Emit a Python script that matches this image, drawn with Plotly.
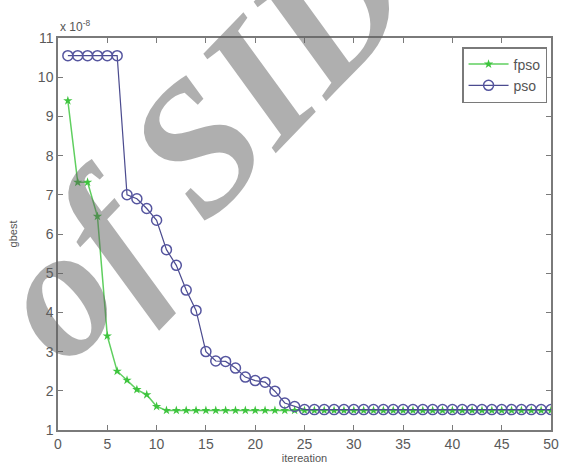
import plotly.graph_objects as go

iterations = list(range(1, 51))

fpso = [9.4, 7.32, 7.32, 6.45, 3.4, 2.5, 2.27, 2.03, 1.9, 1.6] + [1.5] * 40

pso = [10.55, 10.55, 10.55, 10.55, 10.55, 10.55, 7.0, 6.9, 6.65, 6.35,
       5.6, 5.2, 4.57, 4.05, 3.0, 2.76, 2.75, 2.58, 2.35, 2.26,
       2.22, 1.99, 1.69, 1.6] + [1.52] * 26

x_ticks = list(range(0, 51, 5))
y_ticks = list(range(1, 12))

fig = go.Figure()
fig.add_trace(go.Scatter(
    x=iterations, y=fpso, name="fpso", mode="lines+markers",
    line=dict(color="#5fcf5f", width=1.5),
    marker=dict(symbol="star", size=7, color="#3ec43e"),
))
fig.add_trace(go.Scatter(
    x=iterations, y=pso, name="pso", mode="lines+markers",
    line=dict(color="#4b4b8f", width=1.2),
    marker=dict(symbol="circle-open", size=10, color="#55559f",
                line=dict(width=1.5)),
))

axis_common = dict(
    showline=True, linecolor="#7a7a7a", linewidth=1.5, mirror="ticks",
    ticks="inside", ticklen=5, tickcolor="#7a7a7a", tickwidth=1.2,
    showgrid=False, zeroline=False,
    tickfont=dict(family="Liberation Sans, Arial", size=14, color="#5a5a5a"),
)

fig.update_layout(
    width=569, height=473,
    margin=dict(l=58, r=10, t=38, b=40),
    paper_bgcolor="white", plot_bgcolor="white",
    xaxis=dict(range=[0, 50], tickvals=x_ticks,
               title=dict(text="itereation", standoff=4,
                          font=dict(family="Liberation Sans, Arial", size=11, color="#555555")),
               **axis_common),
    yaxis=dict(range=[1, 11], tickvals=y_ticks,
               title=dict(text="gbest", standoff=18,
                          font=dict(family="Liberation Sans, Arial", size=11, color="#555555")),
               **axis_common),
    legend=dict(x=0.992, y=0.977, xanchor="right", yanchor="top",
                bordercolor="#7a7a7a", borderwidth=1.5, bgcolor="white",
                font=dict(family="Liberation Sans, Arial", size=14, color="#555555"),
                tracegroupgap=0, itemwidth=40),
    showlegend=True,
)

fig.add_annotation(
    xref="paper", yref="paper", x=0, y=1, xanchor="left", yanchor="bottom",
    yshift=2, text="x 10<sup>-8</sup>", showarrow=False,
    font=dict(family="Liberation Sans, Arial", size=12, color="#555555"),
)

# watermark
fig.add_annotation(
    xref="paper", yref="paper", x=0.285, y=0.73, xanchor="center", yanchor="middle",
    text="<b><i>of SID</i></b>",
    showarrow=False, textangle=-46,
    font=dict(family="Liberation Serif, DejaVu Serif, serif", size=185,
              color="rgba(95,95,95,0.5)"),
)

fig.write_html("out.html")
